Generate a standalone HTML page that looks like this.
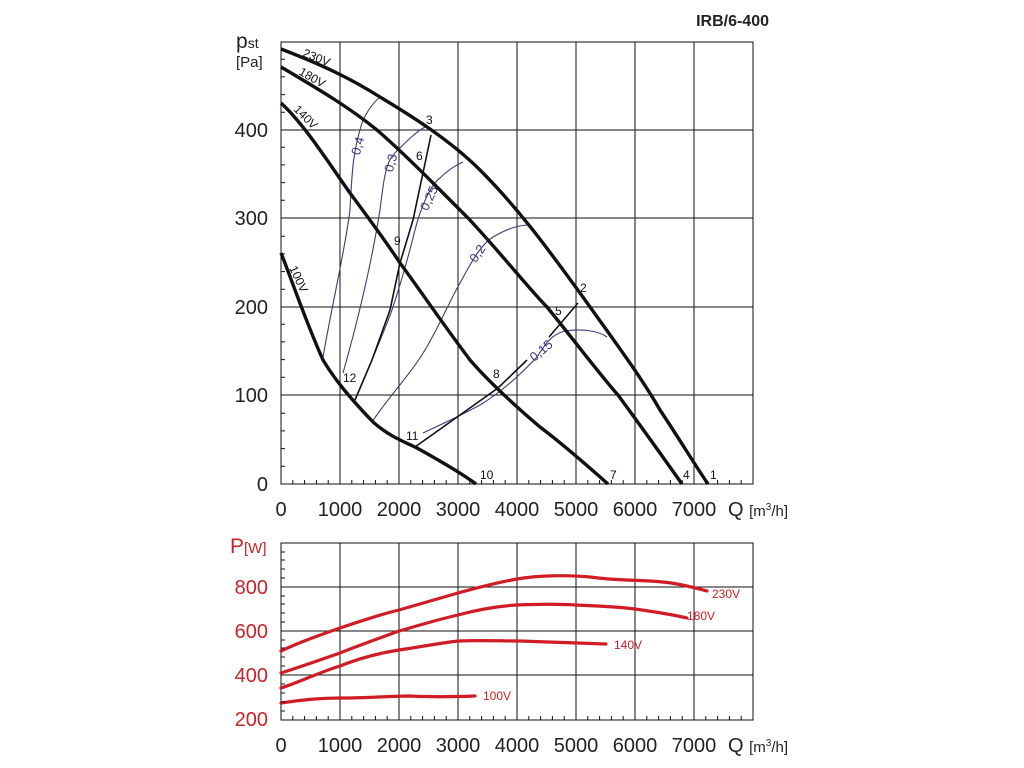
<!DOCTYPE html>
<html><head><meta charset="utf-8"><style>
html,body{margin:0;padding:0;background:#fff;}
svg{display:block;}
text{font-family:"Liberation Sans",Arial,sans-serif;}
</style></head><body>
<svg width="1024" height="768" viewBox="0 0 1024 768" xmlns="http://www.w3.org/2000/svg">
<text x="769" y="26" text-anchor="end" font-size="16" font-weight="bold" fill="#222">IRB/6-400</text>

<g stroke="#111" stroke-width="1" fill="none">
<rect x="281" y="42" width="472" height="442"/>
<line x1="340" y1="42" x2="340" y2="484"/><line x1="399" y1="42" x2="399" y2="484"/>
<line x1="458" y1="42" x2="458" y2="484"/><line x1="517" y1="42" x2="517" y2="484"/>
<line x1="576" y1="42" x2="576" y2="484"/><line x1="635" y1="42" x2="635" y2="484"/>
<line x1="694" y1="42" x2="694" y2="484"/>
<line x1="281" y1="130" x2="753" y2="130"/><line x1="281" y1="218" x2="753" y2="218"/>
<line x1="281" y1="307" x2="753" y2="307"/><line x1="281" y1="395" x2="753" y2="395"/>
</g>

<g stroke="#3d3b78" stroke-width="1.1" fill="none">
<path d="M323,357 C333,300 345,250 350,210 C352,170 353,150 363,120 C368,110 374,102 380,97"/>
<path d="M343,373 C358,320 372,260 380,210 C385,170 386,160 400,148 C408,140 416,132 425,127"/>
<path d="M355,400 C372,360 385,330 392,310 C402,280 410,250 415,230 C420,210 430,185 440,178 C448,170 456,165 463,162"/>
<path d="M372,422 C390,395 410,375 425,350 C440,325 450,300 460,283 C470,265 480,245 493,237 C505,230 515,226 527,225"/>
<path d="M423,433 C440,425 460,416 480,405 C500,393 520,375 537,357 C545,345 550,335 565,331 C585,328 600,332 607,337"/>
</g>
<g fill="#3d3b78" font-size="13">
<text transform="translate(362,147) rotate(-75)" text-anchor="middle">0,4</text>
<text transform="translate(395,164) rotate(-75)" text-anchor="middle">0,3</text>
<text transform="translate(433,200) rotate(-65)" text-anchor="middle">0,25</text>
<text transform="translate(481,256) rotate(-55)" text-anchor="middle">0,2</text>
<text transform="translate(544,354) rotate(-40)" text-anchor="middle">0,15</text>
</g>

<g stroke="#111" stroke-width="1.6" fill="none">
<path d="M431,135 L413,220 L400,263 L390,310 L372,360 L355,400"/>
<path d="M578,303 L549,337"/>
<path d="M415,447 L460,415 L498,388 L527,360"/>
</g>

<g stroke="#111" stroke-width="3.4" fill="none" stroke-linejoin="round">
<path d="M281,49 C320,64 350,78 380,97 C410,115 450,140 480,170 C520,210 550,252 580,293 C610,335 640,375 660,410 C680,440 695,465 708,484"/>
<path d="M281,67 C320,90 350,108 377,130 C400,150 420,170 433,183 C450,200 460,210 468,218 C500,252 530,290 547,307 C570,335 600,375 618,395 C640,425 665,460 682,484"/>
<path d="M281,103 C305,125 330,165 350,193 C370,220 385,240 400,263 C420,290 440,320 470,360 C490,383 520,410 540,427 C560,442 590,468 608,484"/>
<path d="M281,253 C290,275 305,320 323,360 C335,380 350,398 373,422 C390,437 405,442 417,448 C435,458 460,472 476,484"/>
</g>
<g fill="#111" font-size="12">
<text transform="translate(302,56) rotate(22)">230V</text>
<text transform="translate(298,74) rotate(30)">180V</text>
<text transform="translate(293,110) rotate(45)">140V</text>
<text transform="translate(289,268) rotate(65)">100V</text>
<text x="426" y="124">3</text><text x="580" y="292">2</text>
<text x="416" y="160">6</text><text x="555" y="315">5</text>
<text x="394" y="245">9</text><text x="493" y="378">8</text>
<text x="343" y="382">12</text><text x="406" y="440">11</text>
<text x="480" y="479">10</text><text x="610" y="479">7</text>
<text x="683" y="479">4</text><text x="710" y="479">1</text>
</g>
<g fill="#222" font-size="20">
<text x="268" y="491" text-anchor="end">0</text>
<text x="268" y="402" text-anchor="end">100</text>
<text x="268" y="314" text-anchor="end">200</text>
<text x="268" y="225" text-anchor="end">300</text>
<text x="268" y="137" text-anchor="end">400</text>
</g>
<text x="236" y="48" font-size="21" fill="#222">p<tspan font-size="14">st</tspan></text>
<text x="236" y="67" font-size="15" fill="#222">[Pa]</text>
<g fill="#222" font-size="20" text-anchor="middle">
<text x="281" y="516">0</text><text x="340" y="516">1000</text><text x="399" y="516">2000</text>
<text x="458" y="516">3000</text><text x="517" y="516">4000</text><text x="576" y="516">5000</text>
<text x="635" y="516">6000</text><text x="694" y="516">7000</text>
</g>
<text x="728" y="516" font-size="20" fill="#222">Q <tspan font-size="15">[m<tspan font-size="10" dy="-6">3</tspan><tspan dy="6">/h]</tspan></tspan></text>

<g stroke="#111" stroke-width="1" fill="none">
<rect x="281" y="543" width="472" height="177"/>
<line x1="340" y1="543" x2="340" y2="720"/><line x1="399" y1="543" x2="399" y2="720"/>
<line x1="458" y1="543" x2="458" y2="720"/><line x1="517" y1="543" x2="517" y2="720"/>
<line x1="576" y1="543" x2="576" y2="720"/><line x1="635" y1="543" x2="635" y2="720"/>
<line x1="694" y1="543" x2="694" y2="720"/>
<line x1="281" y1="587" x2="753" y2="587"/><line x1="281" y1="631" x2="753" y2="631"/>
<line x1="281" y1="675" x2="753" y2="675"/>
</g>
<g stroke="#d01c24" stroke-width="3.2" fill="none" stroke-linecap="round">
<path d="M281,651 C300,642 320,635 340,628 C370,618 390,612 399,610 C420,604 440,598 458,593 C480,587 500,582 517,579 C540,575 570,575 590,577 C610,580 630,580 650,581 C670,582 685,585 707,591"/>
<path d="M281,673 C300,667 320,660 340,653 C360,645 380,638 399,631 C420,625 440,619 458,615 C480,609 500,606 517,605 C540,604 560,604 576,605 C600,606 620,607 635,609 C655,612 670,614 687,618"/>
<path d="M281,688 C300,682 320,672 340,666 C360,658 380,653 399,650 C420,647 440,643 458,641 C480,640 500,641 520,641 C550,642 570,643 606,644"/>
<path d="M281,703 C300,700 320,698 340,698 C370,698 390,696 410,696 C430,697 450,697 475,696"/>
</g>
<g fill="#d01c24" font-size="12">
<text x="712" y="598">230V</text><text x="687" y="620">180V</text>
<text x="614" y="649">140V</text><text x="483" y="700">100V</text>
</g>
<g fill="#c8222a" font-size="20">
<text x="268" y="594" text-anchor="end">800</text>
<text x="268" y="638" text-anchor="end">600</text>
<text x="268" y="682" text-anchor="end">400</text>
<text x="268" y="726" text-anchor="end">200</text>
<text x="230" y="553" font-size="21">P<tspan font-size="15">[W]</tspan></text>
</g>
<g fill="#222" font-size="20" text-anchor="middle">
<text x="281" y="752">0</text><text x="340" y="752">1000</text><text x="399" y="752">2000</text>
<text x="458" y="752">3000</text><text x="517" y="752">4000</text><text x="576" y="752">5000</text>
<text x="635" y="752">6000</text><text x="694" y="752">7000</text>
</g>
<text x="728" y="752" font-size="20" fill="#222">Q <tspan font-size="15">[m<tspan font-size="10" dy="-6">3</tspan><tspan dy="6">/h]</tspan></tspan></text>

<g stroke="#111" stroke-width="1">
<path d="M292.8,484v-4M304.6,484v-4M316.4,484v-4M328.2,484v-4M351.8,484v-4M363.6,484v-4M375.4,484v-4M387.2,484v-4M410.8,484v-4M422.6,484v-4M434.4,484v-4M446.2,484v-4M469.8,484v-4M481.6,484v-4M493.4,484v-4M505.2,484v-4M528.8,484v-4M540.6,484v-4M552.4,484v-4M564.2,484v-4M587.8,484v-4M599.6,484v-4M611.4,484v-4M623.2,484v-4M646.8,484v-4M658.6,484v-4M670.4,484v-4M682.2,484v-4M705.8,484v-4M717.6,484v-4M729.4,484v-4M741.2,484v-4"/>
<path d="M281,466.3h4M281,448.6h4M281,430.9h4M281,413.2h4M281,377.3h4M281,359.6h4M281,341.9h4M281,324.2h4M281,289.3h4M281,271.6h4M281,253.9h4M281,236.2h4M281,200.3h4M281,182.6h4M281,164.9h4M281,147.2h4M281,112.3h4M281,94.6h4M281,76.9h4M281,59.2h4"/>
<path d="M292.8,720v-4M304.6,720v-4M316.4,720v-4M328.2,720v-4M351.8,720v-4M363.6,720v-4M375.4,720v-4M387.2,720v-4M410.8,720v-4M422.6,720v-4M434.4,720v-4M446.2,720v-4M469.8,720v-4M481.6,720v-4M493.4,720v-4M505.2,720v-4M528.8,720v-4M540.6,720v-4M552.4,720v-4M564.2,720v-4M587.8,720v-4M599.6,720v-4M611.4,720v-4M623.2,720v-4M646.8,720v-4M658.6,720v-4M670.4,720v-4M682.2,720v-4M705.8,720v-4M717.6,720v-4M729.4,720v-4M741.2,720v-4"/>
<path d="M281,711h4M281,702h4M281,693h4M281,684h4M281,666h4M281,657h4M281,648h4M281,640h4M281,622h4M281,613h4M281,604h4M281,596h4M281,578h4M281,569h4M281,560h4M281,552h4"/>
</g>
</svg>
</body></html>
